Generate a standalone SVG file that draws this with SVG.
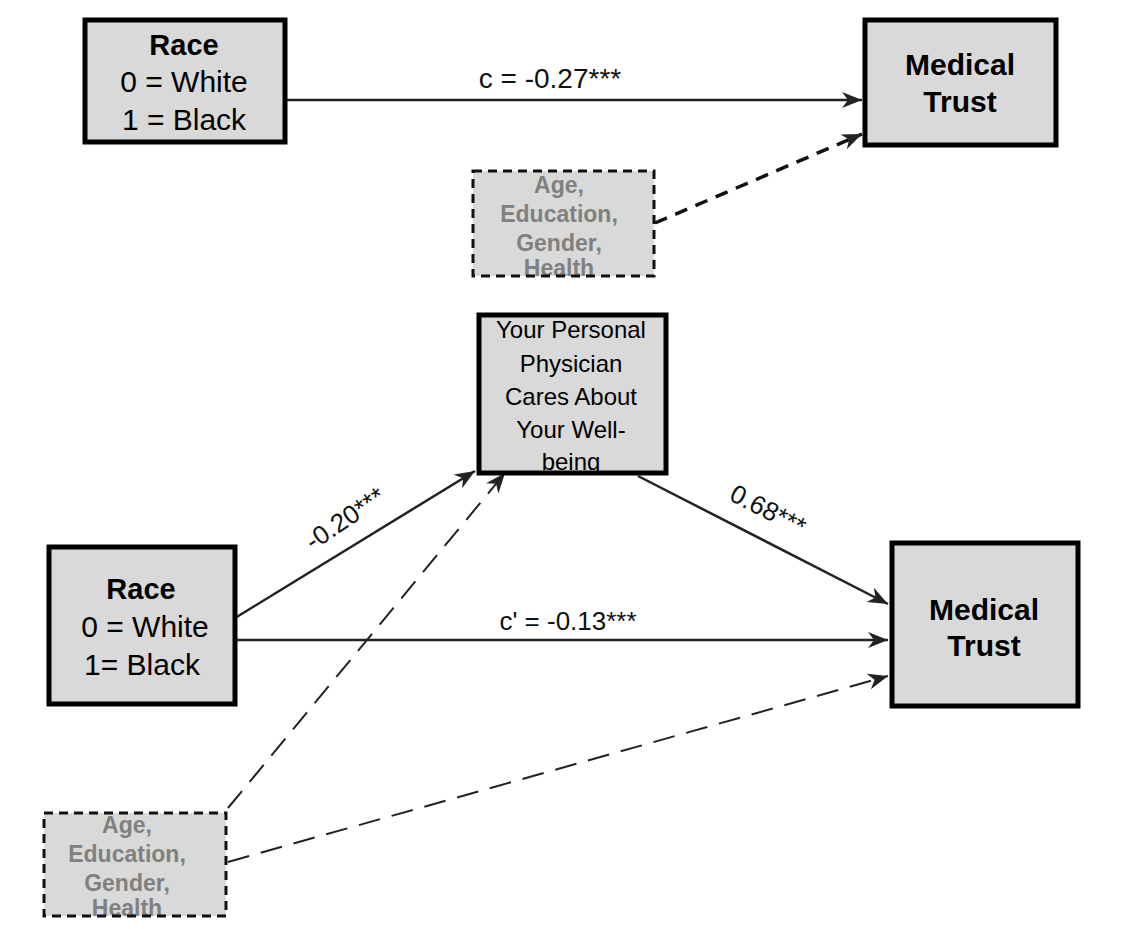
<svg xmlns="http://www.w3.org/2000/svg" width="1125" height="929" viewBox="0 0 1125 929">
<defs>
<style>
.box{fill:#d9d9d9;stroke:none}
.bd{fill:none;stroke:#000;stroke-width:5}
.dbd{fill:none;stroke:#111;stroke-width:3;stroke-dasharray:9 6}
.t{font-family:"Liberation Sans",Arial,sans-serif;fill:#000;text-anchor:middle}
.b{font-weight:bold}
.g{font-family:"Liberation Sans",Arial,sans-serif;fill:#808080;font-weight:bold;text-anchor:middle;font-size:23px}
.ln{stroke:#222;stroke-width:2.5;fill:none}
.dsh{stroke:#111;stroke-width:3.5;fill:none;stroke-dasharray:13 9}
.dl{stroke:#222;stroke-width:2;fill:none;stroke-dasharray:22 12}
.lab{font-family:"Liberation Sans",Arial,sans-serif;fill:#111;text-anchor:middle}
</style>
<marker id="ah" markerUnits="userSpaceOnUse" markerWidth="22" markerHeight="18" refX="20" refY="8" orient="auto">
<path d="M0,0 L20,8 L0,16 L6,8 z" fill="#222"/>
</marker>
</defs>
<rect width="1125" height="929" fill="#fff"/>

<g id="connectors">
<line class="ln" x1="287" y1="100" x2="862" y2="100" marker-end="url(#ah)"/>
<line class="dsh" x1="655" y1="223" x2="862" y2="134" marker-end="url(#ah)"/>
<line class="ln" x1="235" y1="618" x2="475" y2="471" marker-end="url(#ah)"/>
<line class="dl" x1="228" y1="808" x2="505" y2="473" marker-end="url(#ah)"/>
<line class="ln" x1="638" y1="476" x2="888" y2="604" marker-end="url(#ah)"/>
<line class="ln" x1="235" y1="640" x2="888" y2="640" marker-end="url(#ah)"/>
<line class="dl" x1="228" y1="862" x2="888" y2="676" marker-end="url(#ah)"/>
<text class="lab" x="550" y="88" font-size="28">c = -0.27***</text>
<text class="lab" x="568" y="630" font-size="26">c' = -0.13***</text>
<text class="lab" font-size="26" transform="translate(350,526) rotate(-34)">-0.20***</text>
<text class="lab" font-size="26" transform="translate(764,518) rotate(27)">0.68***</text>
</g>

<g id="race-top">
<rect class="box" x="85" y="20" width="200" height="122"/>
<text class="t b" x="184" y="55" font-size="29">Race</text>
<text class="t" x="184" y="92" font-size="30">0 = White</text>
<text class="t" x="184" y="130" font-size="30">1 = Black</text>
<rect class="bd" x="85" y="20" width="200" height="122"/>
</g>

<g id="trust-top">
<rect class="box" x="865" y="20" width="191" height="125"/>
<text class="t b" x="960" y="75" font-size="30">Medical</text>
<text class="t b" x="960" y="112" font-size="30">Trust</text>
<rect class="bd" x="865" y="20" width="191" height="125"/>
</g>

<g id="cov-top">
<rect class="box" x="473" y="171" width="181" height="105"/>
<text class="g" x="559" y="193">Age,</text>
<text class="g" x="559" y="222">Education,</text>
<text class="g" x="559" y="251">Gender,</text>
<text class="g" x="559" y="276">Health</text>
<rect class="dbd" x="473" y="171" width="181" height="105"/>
</g>

<g id="mediator">
<rect class="box" x="479" y="315" width="187" height="158"/>
<text class="t" x="571" y="338" font-size="24">Your Personal</text>
<text class="t" x="571" y="372" font-size="24">Physician</text>
<text class="t" x="571" y="405" font-size="24">Cares About</text>
<text class="t" x="571" y="438" font-size="24">Your Well-</text>
<text class="t" x="571" y="470" font-size="24">being</text>
<rect class="bd" x="479" y="315" width="187" height="158"/>
</g>

<g id="race-bottom">
<rect class="box" x="49" y="547" width="186" height="157"/>
<text class="t b" x="141" y="599" font-size="29">Race</text>
<text class="t" x="145" y="637" font-size="30">0 = White</text>
<text class="t" x="142" y="675" font-size="30">1= Black</text>
<rect class="bd" x="49" y="547" width="186" height="157"/>
</g>

<g id="trust-bottom">
<rect class="box" x="892" y="543" width="186" height="163"/>
<text class="t b" x="984" y="620" font-size="30">Medical</text>
<text class="t b" x="984" y="656" font-size="30">Trust</text>
<rect class="bd" x="892" y="543" width="186" height="163"/>
</g>

<g id="cov-bottom">
<rect class="box" x="44" y="813" width="182" height="103"/>
<text class="g" x="127" y="833">Age,</text>
<text class="g" x="127" y="862">Education,</text>
<text class="g" x="127" y="891">Gender,</text>
<text class="g" x="127" y="916">Health</text>
<rect class="dbd" x="44" y="813" width="182" height="103"/>
</g>
</svg>
